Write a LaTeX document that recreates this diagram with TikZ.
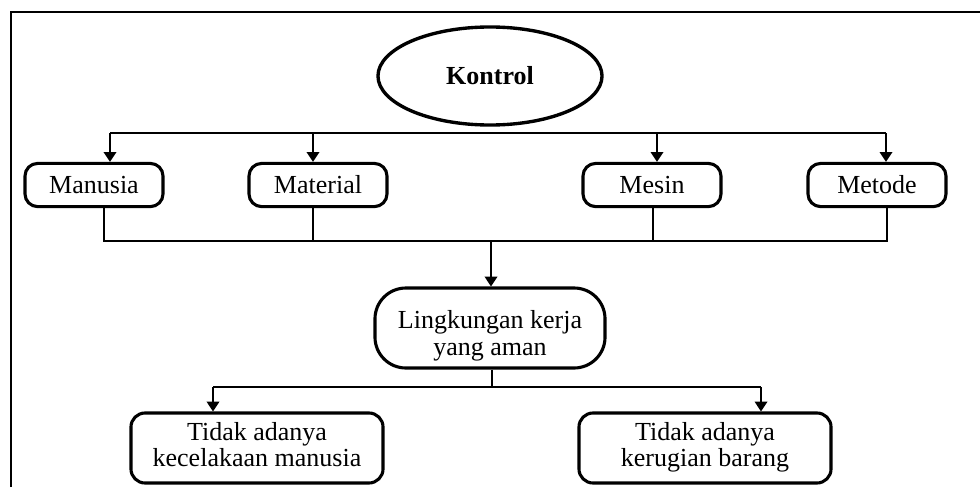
\documentclass[tikz,border=0pt]{standalone}
\usepackage{fontspec}
\setmainfont{Liberation Serif}
\usepackage{tikz}
\usetikzlibrary{shapes.geometric, arrows.meta, positioning, calc}

\tikzset{
    faktor/.style={draw, line width=2.2pt, rounded corners=9pt, minimum width=3.45cm,
                   minimum height=1.08cm, inner sep=2pt, font=\fontsize{18.5}{19}\selectfont},
    hasil/.style={draw, line width=2.2pt, rounded corners=10pt, minimum width=6.3cm,
                  minimum height=1.75cm, align=center, font=\fontsize{18.5}{19}\selectfont},
    garis/.style={line width=1pt},
    panah/.style={line width=1pt, -{Triangle[width=9pt,length=7pt]}}
}

\begin{document}
\begin{tikzpicture}[x=0.025cm, y=-0.025cm]
    \useasboundingbox (0,0) rectangle (980,487);
    % bingkai
    \draw[line width=1.6pt] (11,487) -- (11,12) -- (980,12);

    \node[ellipse, draw, line width=2.4pt, minimum width=5.6cm, minimum height=2.45cm,
          font=\fontsize{18.5}{19}\selectfont\bfseries] (kontrol) at (490,76) {Kontrol};

    \node[faktor] (manusia)  at (94,185)  {Manusia};
    \node[faktor] (material) at (318,185) {Material};
    \node[faktor] (mesin)    at (652,185) {Mesin};
    \node[faktor] (metode)   at (877,185) {Metode};

    \node[draw, line width=2.2pt, rounded corners=22pt, minimum width=5.75cm, minimum height=2cm,
          align=center, font=\fontsize{18.5}{19}\selectfont] (lingkungan) at (490,328)
          {\rule{0pt}{24pt}Lingkungan kerja\\yang aman};

    \node[hasil] (kecelakaan) at (257,448) {Tidak adanya\\kecelakaan manusia\rule[-5pt]{0pt}{0pt}};
    \node[hasil] (kerugian)   at (705,448) {Tidak adanya\\kerugian barang\rule[-5pt]{0pt}{0pt}};

    % dari kontrol ke faktor
    \coordinate (a1) at (110,133);
    \coordinate (a2) at (313,133);
    \coordinate (a3) at (657,133);
    \coordinate (a4) at (886,133);
    \draw[garis] (a1) -- (a4);
    \draw[panah] (a1) -- (a1 |- manusia.north);
    \draw[panah] (a2) -- (a2 |- material.north);
    \draw[panah] (a3) -- (a3 |- mesin.north);
    \draw[panah] (a4) -- (a4 |- metode.north);

    % dari faktor ke lingkungan kerja
    \coordinate (b1) at (104,241);
    \coordinate (b2) at (313,241);
    \coordinate (b3) at (653,241);
    \coordinate (b4) at (887,241);
    \coordinate (b0) at (491,241);
    \draw[garis] (b1 |- manusia.south) -- (b1) -- (b4) -- (b4 |- metode.south);
    \draw[garis] (b2 |- material.south) -- (b2);
    \draw[garis] (b3 |- mesin.south) -- (b3);
    \draw[panah] (b0) -- (b0 |- lingkungan.north);

    % dari lingkungan kerja ke hasil
    \coordinate (c0) at (492,387);
    \coordinate (c1) at (213,387);
    \coordinate (c2) at (761,387);
    \draw[garis] (c0 |- lingkungan.south) -- (c0);
    \draw[garis] (c1) -- (c2);
    \draw[panah] (c1) -- (c1 |- kecelakaan.north);
    \draw[panah] (c2) -- (c2 |- kerugian.north);
\end{tikzpicture}
\end{document}
